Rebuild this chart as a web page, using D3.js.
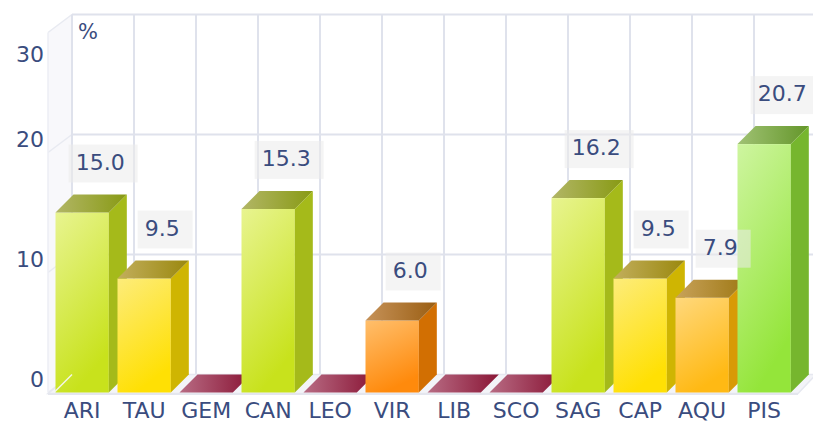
<!DOCTYPE html>
<html>
<head>
<meta charset="utf-8">
<script src="https://cdn.jsdelivr.net/npm/d3@7"></script>
<style>
  html, body { margin: 0; padding: 0; background: #ffffff; }
  svg { display: block; }
  text { font-family: "DejaVu Sans", sans-serif; }
</style>
</head>
<body>
<div id="chart"></div>
<script>
// ---- data ----
const categories = ["ARI", "TAU", "GEM", "CAN", "LEO", "VIR", "LIB", "SCO", "SAG", "CAP", "AQU", "PIS"];
const values = [15.0, 9.5, 0, 15.3, 0, 6.0, 0, 0, 16.2, 9.5, 7.9, 20.7];
const yTicks = [0, 10, 20, 30];
const yUnit = "%";

// ---- layout / style ----
const W = 813, H = 423;
const DX = 18, DY = 18;          // 3D depth offset
const textColor = "#3a4c7e";
const gridColor = "#dfe2ec";

const svg = d3.select("#chart").append("svg")
  .attr("width", W).attr("height", H);

const x = d3.scaleBand().domain(categories).range([54, 798]).padding(0);
const y = d3.scaleLinear().domain([0, 30]).range([392.5, 32.5]);

const palette = {
  maroon: { front: ["#b87088", "#8c1838"], side: "#7a1030", top: ["#b86c84", "#8a1636"] },
  orange: { front: ["#ffbf6c", "#ff8a0c"], side: "#d26f02", top: ["#c69259", "#9a5e12"] },
  amber:  { front: ["#ffd87c", "#ffb914"], side: "#d89a06", top: ["#c8a25a", "#9e7814"] },
  yellow: { front: ["#fdec7a", "#ffe004"], side: "#cfb502", top: ["#c2ae5c", "#9a880e"] },
  lime:   { front: ["#e8f490", "#c8e21c"], side: "#a5ba1a", top: ["#b2b666", "#889a14"] },
  green:  { front: ["#cef5a0", "#94e53a"], side: "#76b62e", top: ["#a0c274", "#64962a"] }
};
const colorKey = d3.scaleThreshold()
  .domain([0.05, 7, 9, 12, 18])
  .range(["maroon", "orange", "amber", "yellow", "lime", "green"]);

// gradients
const defs = svg.append("defs");
Object.entries(palette).forEach(([k, p]) => {
  const gf = defs.append("linearGradient").attr("id", "f-" + k)
    .attr("x1", 0).attr("y1", 0).attr("x2", 0.35).attr("y2", 1);
  gf.append("stop").attr("offset", "0%").attr("stop-color", p.front[0]);
  gf.append("stop").attr("offset", "100%").attr("stop-color", p.front[1]);
  const gt = defs.append("linearGradient").attr("id", "t-" + k)
    .attr("x1", 0).attr("y1", 0).attr("x2", 1).attr("y2", 0);
  gt.append("stop").attr("offset", "0%").attr("stop-color", p.top[0]);
  gt.append("stop").attr("offset", "100%").attr("stop-color", p.top[1]);
});

const x0 = x.range()[0], x1 = x.range()[1];
const yb = y(0), yt = y(30);

// ---- left wall ----
svg.append("polygon")
  .attr("points", [[x0 - 6, yb], [x0 + DX, yb - DY], [x0 + DX, yt - DY], [x0 - 6, yt]].join(" "))
  .attr("fill", "#f8f8fb").attr("stroke", "none");
svg.append("g").selectAll("line").data(yTicks).join("line")
  .attr("x1", x0 - 6).attr("y1", d => y(d))
  .attr("x2", x0 + DX).attr("y2", d => y(d) - DY)
  .attr("stroke", "#e8eaf1").attr("stroke-width", 1.5);
svg.append("line")
  .attr("x1", x0 - 6).attr("y1", yt).attr("x2", x0 - 6).attr("y2", yb)
  .attr("stroke", "#eceef4").attr("stroke-width", 1.5);

// ---- back wall ----
svg.append("rect")
  .attr("x", x0 + DX).attr("y", yt - DY)
  .attr("width", x1 - x0 + 2).attr("height", yb - yt)
  .attr("fill", "#ffffff");
svg.append("g").selectAll("line").data(yTicks.filter(d => d > 0)).join("line")
  .attr("x1", x0 + DX).attr("x2", W)
  .attr("y1", d => y(d) - DY).attr("y2", d => y(d) - DY)
  .attr("stroke", gridColor).attr("stroke-width", 2);
const vLines = categories.map(c => x(c)).concat([x1]);
svg.append("g").selectAll("line").data(vLines).join("line")
  .attr("x1", d => d + DX).attr("x2", d => d + DX)
  .attr("y1", yt - DY).attr("y2", yb - DY)
  .attr("stroke", gridColor).attr("stroke-width", 2);

// ---- floor ----
svg.append("polygon")
  .attr("points", [[x0 - 6, yb + 1], [x0 + DX, yb - DY], [x1 + DX, yb - DY], [x1, yb + 1]].join(" "))
  .attr("fill", "#f3f4f8").attr("stroke", "#e6e8f0").attr("stroke-width", 1.5);
svg.append("line")
  .attr("x1", x0 - 6).attr("x2", x1).attr("y1", yb + 1.5).attr("y2", yb + 1.5)
  .attr("stroke", "#e4e6ee").attr("stroke-width", 2);

// ---- bars ----
const barW = x.bandwidth() * 0.86;
const barOff = 1.5;
const bars = categories.map((c, i) => ({ c, v: values[i] }));
const gBars = svg.append("g");
bars.forEach(d => {
  const k = colorKey(d.v);
  const bx0 = x(d.c) + barOff, bx1 = bx0 + barW;
  const top = y(d.v), bot = y(0);
  const g = gBars.append("g");
  if (d.v > 0) {
    g.append("rect").attr("x", bx0).attr("y", top)
      .attr("width", barW).attr("height", bot - top)
      .attr("fill", `url(#f-${k})`);
    g.append("polygon")
      .attr("points", [[bx1, top], [bx1 + DX, top - DY], [bx1 + DX, bot - DY], [bx1, bot]].join(" "))
      .attr("fill", palette[k].side);
  }
  g.append("polygon")
    .attr("points", [[bx0, top], [bx0 + DX, top - DY], [bx1 + DX, top - DY], [bx1, top]].join(" "))
    .attr("fill", `url(#t-${k})`);
});

// floor-edge line drawn over first bar
svg.append("line")
  .attr("x1", x0 + 1).attr("y1", yb - 1).attr("x2", x0 + DX).attr("y2", yb - DY)
  .attr("stroke", "#f4f6e8").attr("stroke-width", 1.5);

// ---- value labels ----
const fmt = d3.format(".1f");
const gLab = svg.append("g");
bars.filter(d => d.v > 0).forEach(d => {
  const cx = x(d.c) + barOff + barW / 2 + DX;
  const base = y(d.v) - DY - 25;
  const g = gLab.append("g");
  const rect = g.append("rect");
  const t = g.append("text")
    .attr("x", cx).attr("y", base)
    .attr("text-anchor", "middle")
    .attr("font-size", 22)
    .attr("fill", textColor)
    .text(fmt(d.v));
  const bb = t.node().getBBox();
  rect.attr("x", bb.x - 7).attr("y", base - 25)
    .attr("width", bb.width + 20).attr("height", 38)
    .attr("fill", "#ebebeb").attr("fill-opacity", 0.55);
});

// ---- category labels ----
svg.append("g").selectAll("text").data(categories).join("text")
  .attr("x", d => x(d) + barOff + barW / 2)
  .attr("y", 418)
  .attr("text-anchor", "middle")
  .attr("font-size", 22)
  .attr("fill", textColor)
  .text(d => d);

// ---- y labels ----
svg.append("g").selectAll("text").data(yTicks).join("text")
  .attr("x", 44)
  .attr("y", d => Math.max(y(d) - 13, 54))
  .attr("dy", "0.36em")
  .attr("text-anchor", "end")
  .attr("font-size", 22)
  .attr("fill", textColor)
  .text(d => d);

svg.append("text")
  .attr("x", 78).attr("y", 39)
  .attr("font-size", 21)
  .attr("fill", textColor)
  .text(yUnit);
</script>
</body>
</html>
